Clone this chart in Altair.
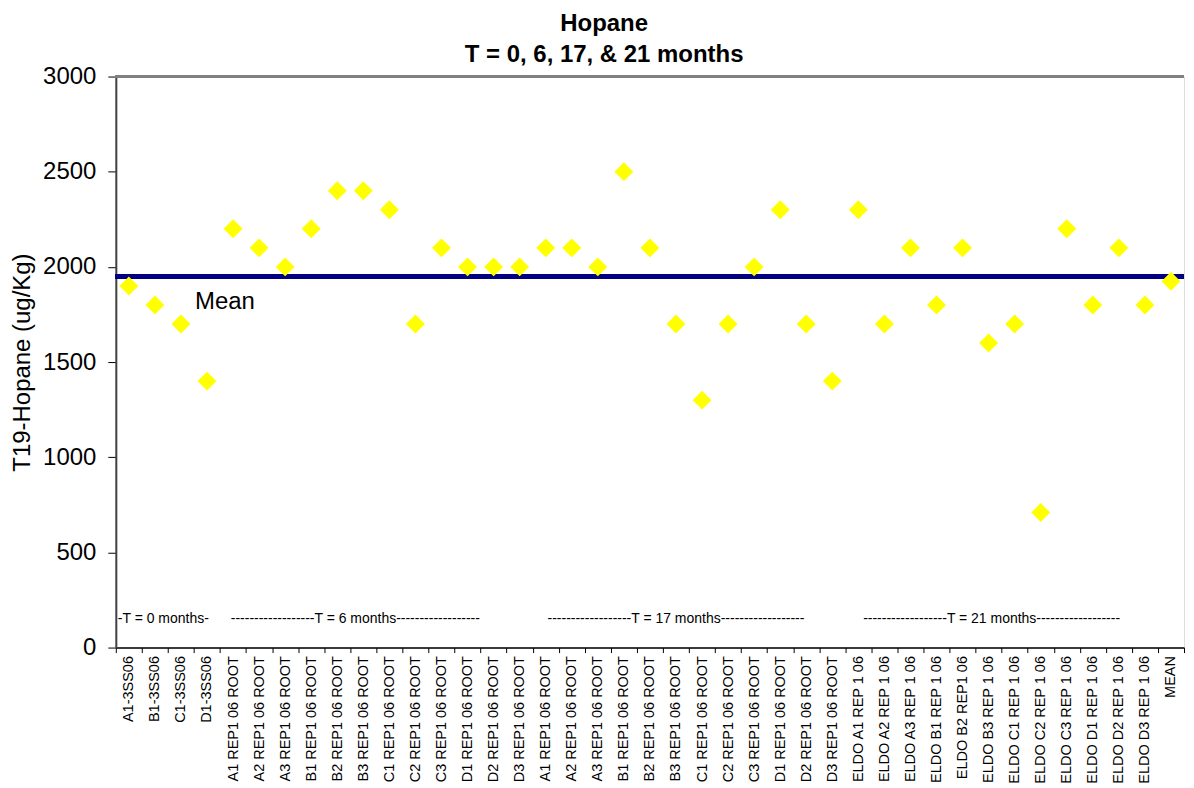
import json
import altair as alt
import pandas as pd

t6 = ["A1 REP1 06 ROOT", "A2 REP1 06 ROOT", "A3 REP1 06 ROOT", "B1 REP1 06 ROOT",
      "B2 REP1 06 ROOT", "B3 REP1 06 ROOT", "C1 REP1 06 ROOT", "C2 REP1 06 ROOT",
      "C3 REP1 06 ROOT", "D1 REP1 06 ROOT", "D2 REP1 06 ROOT", "D3 REP1 06 ROOT"]
labels = (["A1-3SS06", "B1-3SS06", "C1-3SS06", "D1-3SS06"] + t6 + t6 +
          ["ELDO A1 REP 1 06", "ELDO A2 REP 1 06", "ELDO  A3 REP 1 06", "ELDO  B1 REP 1 06",
           "ELDO  B2 REP1  06", "ELDO  B3 REP 1 06", "ELDO  C1 REP 1 06", "ELDO C2 REP 1 06",
           "ELDO C3 REP 1 06", "ELDO D1 REP 1 06", "ELDO D2 REP 1 06", "ELDO D3 REP 1 06",
           "MEAN"])
values = [1900, 1800, 1700, 1400,
          2200, 2100, 2000, 2200, 2400, 2400, 2300, 1700, 2100, 2000, 2000, 2000,
          2100, 2100, 2000, 2500, 2100, 1700, 1300, 1700, 2000, 2300, 1700, 1400,
          2300, 1700, 2100, 1800, 2100, 1600, 1700, 710, 2200, 1800, 2100, 1800,
          1925]
mean_value = 1950

group_texts = ["-T = 0 months-",
               "------------------T = 6 months------------------",
               "------------------T = 17 months------------------",
               "------------------T = 21 months------------------"]
group_idx = [0, 9, 21, 33]
group_dx = [-11, -8, 0, 3]
group_align = ["left", "center", "center", "center"]
group_y = 150

n = len(labels)
df = pd.DataFrame({"idx": list(range(n)), "value": values})

label_expr = "[" + ",".join(json.dumps(l) for l in labels) + "][datum.value]"

FONT = "Liberation Sans"

x_enc = alt.X(
    "idx:O",
    scale=alt.Scale(type="band", domain=list(range(n)), paddingInner=0, paddingOuter=0),
    axis=alt.Axis(
        title=None, labelExpr=label_expr, labelAngle=-90, tickBand="extent",
        labelFontSize=14.5, labelColor="black", labelFont=FONT, labelPadding=3,
        tickSize=5, tickColor="black", domainColor="black", domainWidth=1.5,
        labelLimit=200,
    ),
)
y_scale = alt.Scale(domain=[0, 3000], nice=False)
y_enc = alt.Y(
    "value:Q",
    scale=y_scale,
    axis=alt.Axis(
        title="T19-Hopane (ug/Kg)", values=[0, 500, 1000, 1500, 2000, 2500, 3000],
        format="d",
        grid=False, labelFontSize=24, titleFontSize=24, titleFontWeight="normal",
        labelFont=FONT, titleFont=FONT, tickSize=8, labelPadding=12,
        domainColor="#404040", domainWidth=2, tickColor="black",
        labelColor="black", titleColor="black", titlePadding=8,
    ),
)

points = alt.Chart(df).mark_point(
    shape="diamond", filled=True, color="#FFFF00", size=360, opacity=1
).encode(x=x_enc, y=y_enc)

top_border = alt.Chart(df).mark_rule(color="#808080", strokeWidth=2).encode(
    y=alt.datum(3000, scale=y_scale)
)

mean_line = alt.Chart(df).mark_rule(color="#000080", strokeWidth=3.5).encode(
    y=alt.datum(mean_value)
)

mean_df = pd.DataFrame({"idx": [3], "value": [1815], "text": ["Mean"]})
mean_text = alt.Chart(mean_df).mark_text(
    align="left", baseline="middle", fontSize=24, font=FONT, color="black", dx=-12
).encode(x="idx:O", y="value:Q", text="text:N")

group_layers = []
for t, i, dx, al in zip(group_texts, group_idx, group_dx, group_align):
    gdf = pd.DataFrame({"idx": [i], "value": [group_y], "text": [t]})
    group_layers.append(
        alt.Chart(gdf).mark_text(
            align=al, baseline="middle", fontSize=14, font=FONT, color="black", dx=dx
        ).encode(x="idx:O", y="value:Q", text="text:N")
    )

chart = alt.layer(top_border, mean_line, points, mean_text, *group_layers).properties(
    width=1070,
    height=572,
    title=alt.TitleParams(
        ["Hopane", "T = 0, 6, 17, & 21 months"], fontSize=24, fontWeight="bold",
        font=FONT, lineHeight=31, anchor="middle", frame="bounds", offset=-2,
        dx=6, color="black",
    ),
    padding={"left": 2, "top": 3, "right": 0, "bottom": 0},
).configure_view(stroke=None).configure(background="white")

chart.save("out.html", embed_options={"renderer": "svg", "actions": False})
